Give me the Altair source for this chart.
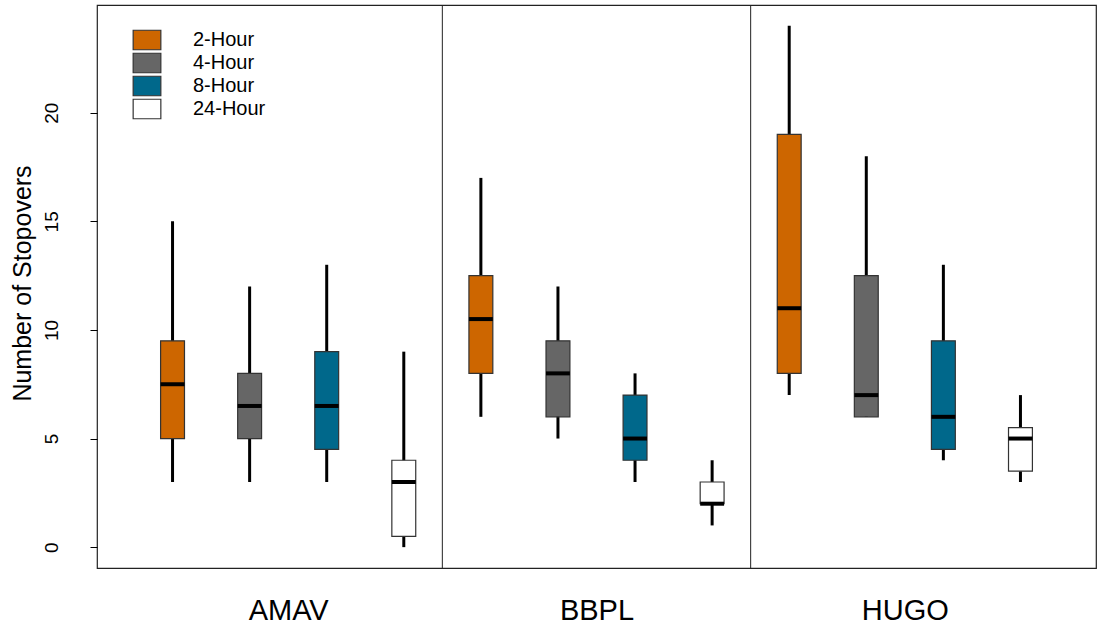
import altair as alt
import pandas as pd
import json

# ---- data ----
groups = ["AMAV", "BBPL", "HUGO"]
durations = ["2-Hour", "4-Hour", "8-Hour", "24-Hour"]
colors = ["#CD6600", "#666666", "#00688B", "#FFFFFF"]

lower_whisker = [3, 3, 3, 0,   6, 5, 3, 1,   7, 6, 4, 3]
q1            = [5, 5, 4.5, 0.5, 8, 6, 4, 2,   8, 6, 4.5, 3.5]
median        = [7.5, 6.5, 6.5, 3, 10.5, 8, 5, 2, 11, 7, 6, 5]
q3            = [9.5, 8, 9, 4,  12.5, 9.5, 7, 3, 19, 12.5, 9.5, 5.5]
upper_whisker = [15, 12, 13, 9, 17, 12, 8, 4,  24, 18, 13, 7]

y_ticks = [0, 5, 10, 15, 20]

# ---- build table ----
rows = []
k = 0
for g in groups:
    for d in durations:
        rows.append(dict(group=g, duration=d, pos=k + 1,
                         lo=lower_whisker[k], q1=q1[k], med=median[k],
                         q3=q3[k], hi=upper_whisker[k]))
        k += 1
df = pd.DataFrame(rows)

n = len(df)
half = 0.155
sep_df = pd.DataFrame({"x": [len(durations) * (i + 1) + 0.5 for i in range(len(groups) - 1)]})
group_centers = [len(durations) * i + (len(durations) + 1) / 2 for i in range(len(groups))]

xscale = alt.Scale(domain=[0.02, 12.98], nice=False, zero=False)
yscale = alt.Scale(domain=[-0.96, 24.96], nice=False, zero=False)

FONT = "Liberation Sans"

label_expr = "%s[round((datum.value - %g) / %d)]" % (json.dumps(groups), group_centers[0], len(durations))

x_axis = alt.Axis(values=group_centers, labelExpr=label_expr, title=None,
                  ticks=False, tickSize=0, domain=False, grid=False,
                  labelFontSize=29, labelFont=FONT, labelColor="#000",
                  labelPadding=28, labelBaseline="top", labelAlign="center")
y_axis = alt.Axis(values=y_ticks, title="Number of Stopovers", grid=False, domain=False,
                  tickSize=7, tickColor="#000", tickWidth=1,
                  labelFontSize=19, labelFont=FONT, labelColor="#000",
                  labelAngle=270, labelAlign="center", labelBaseline="bottom", labelPadding=29,
                  titleFontSize=25, titleFont=FONT, titleColor="#000", titleFontWeight="normal",
                  titleAngle=270, titleAlign="center", titleBaseline="middle",
                  titleX=-75, titleY=278)

base = alt.Chart(df).transform_calculate(
    xl=f"datum.pos - {half}", xr=f"datum.pos + {half}"
)

whiskers = base.mark_rule(color="#000", strokeWidth=3).encode(
    x=alt.X("pos:Q", scale=xscale, axis=x_axis),
    y=alt.Y("lo:Q", scale=yscale, axis=y_axis),
    y2="hi:Q",
)

boxes = base.mark_rect(stroke="#333333", strokeWidth=1.2).encode(
    x=alt.X("xl:Q", scale=xscale),
    x2="xr:Q",
    y=alt.Y("q1:Q", scale=yscale),
    y2="q3:Q",
    fill=alt.Fill("duration:N",
                  scale=alt.Scale(domain=durations, range=colors),
                  sort=durations,
                  legend=alt.Legend(
                      title=None, orient="none", legendX=40, legendY=25,
                      padding=0, rowPadding=-10,
                      symbolType="M-1.73,-1.22 L1.73,-1.22 L1.73,1.22 L-1.73,1.22 Z",
                      symbolSize=256, symbolStrokeColor="#333333",
                      symbolStrokeWidth=1.2, symbolOpacity=1,
                      labelFont=FONT, labelFontSize=20, labelColor="#000",
                      labelOffset=36, labelLimit=300)),
)

medians = base.mark_rule(color="#000", strokeWidth=4).encode(
    x=alt.X("xl:Q", scale=xscale),
    x2="xr:Q",
    y=alt.Y("med:Q", scale=yscale),
)

seps = alt.Chart(sep_df).mark_rule(color="#222", strokeWidth=1).encode(
    x=alt.X("x:Q", scale=xscale),
)

chart = alt.layer(whiskers, boxes, medians, seps).properties(
    width=999, height=563,
    autosize=alt.AutoSizeParams(type="none"),
    padding={"left": 97, "top": 5, "right": 1, "bottom": 62},
    background="white",
).configure_view(stroke="#222", strokeWidth=1.2)

chart.save("out.html", embed_options={"renderer": "svg", "actions": False})
